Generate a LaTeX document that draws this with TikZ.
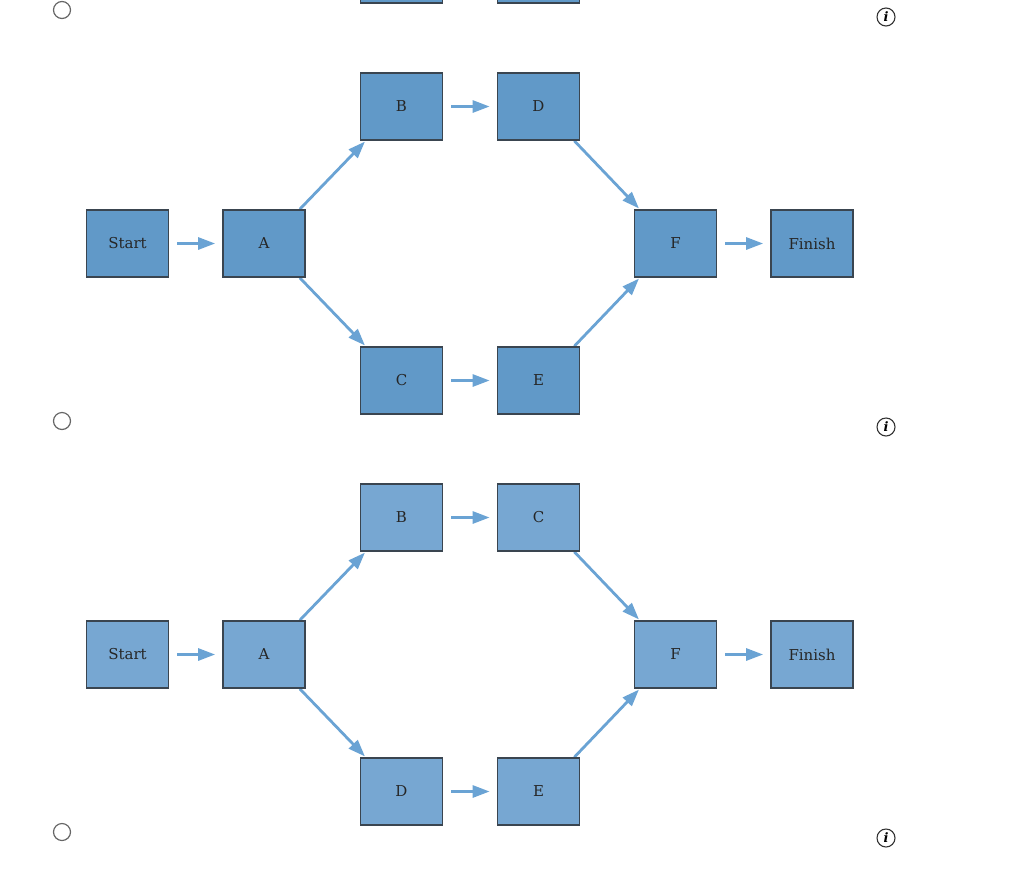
\documentclass[tikz,border=0pt]{standalone}
\usepackage{fontspec}
\setmainfont{DejaVu Serif}
\usetikzlibrary{arrows.meta,calc,backgrounds}
\definecolor{boxA}{HTML}{6199C8}
\definecolor{boxB}{HTML}{77A7D2}
\definecolor{arr}{HTML}{6AA3D4}
\definecolor{edge}{HTML}{3A4550}
\tikzset{
 box/.style={draw=edge,line width=1.7pt,minimum width=82pt,minimum height=67pt,inner sep=0pt,font=\fontsize{15}{17}\selectfont,text=black!85},
 con/.style={draw=arr,line width=2.8pt,-{Triangle[length=17pt,width=12pt]}},
 hcon/.style={con,shorten <=8pt,shorten >=7pt},
 dcon/.style={con,shorten >=1pt},
 radio/.style={circle,draw=black!60,line width=1.2pt,minimum size=17pt,inner sep=0pt},
 info/.style={circle,draw=black!80,line width=1.1pt,minimum size=18pt,inner sep=0pt,font=\fontsize{13}{14}\selectfont\bfseries\itshape}
}
\begin{document}
\begin{tikzpicture}[x=1pt,y=-1pt]
\useasboundingbox (0,0) rectangle (1024,884);
\begin{scope}
\clip (0,0) rectangle (1024,884);
\node[box,fill=boxA] (t1) at (401.5,-30.5) {};
\node[box,fill=boxA] (t2) at (538.5,-30.5) {};
\end{scope}
\node[radio] (r1) at (62,10) {};
\node[radio] (r2) at (62,421) {};
\node[radio] (r3) at (62,832) {};
\node[info] (i1) at (886,17) {i};
\node[info] (i2) at (886,427) {i};
\node[info] (i3) at (886,838) {i};
% diagram 1
\node[box,fill=boxA] (s1) at (127.5,243.5) {Start};
\node[box,fill=boxA] (a1) at (264,243.5) {A};
\node[box,fill=boxA] (b1) at (401.5,106.5) {B};
\node[box,fill=boxA] (d1) at (538.5,106.5) {D};
\node[box,fill=boxA] (c1) at (401.5,380.5) {C};
\node[box,fill=boxA] (e1) at (538.5,380.5) {E};
\node[box,fill=boxA] (f1) at (675.5,243.5) {F};
\node[box,fill=boxA] (n1) at (812,243.5) {Finish};
% diagram 2
\node[box,fill=boxB] (s2) at (127.5,654.5) {Start};
\node[box,fill=boxB] (a2) at (264,654.5) {A};
\node[box,fill=boxB] (b2) at (401.5,517.5) {B};
\node[box,fill=boxB] (c2) at (538.5,517.5) {C};
\node[box,fill=boxB] (d2) at (401.5,791.5) {D};
\node[box,fill=boxB] (e2) at (538.5,791.5) {E};
\node[box,fill=boxB] (f2) at (675.5,654.5) {F};
\node[box,fill=boxB] (n2) at (812,654.5) {Finish};
\begin{scope}[on background layer]
\draw[hcon] (s1) -- (a1);
\draw[hcon] (b1) -- (d1);
\draw[hcon] (c1) -- (e1);
\draw[hcon] (f1) -- (n1);
\draw[dcon] ($(a1.north east)+(-6,0)$) -- ($(b1.south west)+(6,0)$);
\draw[dcon] ($(a1.south east)+(-6,0)$) -- ($(c1.north west)+(6,0)$);
\draw[dcon] ($(d1.south east)+(-6,0)$) -- ($(f1.north west)+(6,0)$);
\draw[dcon] ($(e1.north east)+(-6,0)$) -- ($(f1.south west)+(6,0)$);
\draw[hcon] (s2) -- (a2);
\draw[hcon] (b2) -- (c2);
\draw[hcon] (d2) -- (e2);
\draw[hcon] (f2) -- (n2);
\draw[dcon] ($(a2.north east)+(-6,0)$) -- ($(b2.south west)+(6,0)$);
\draw[dcon] ($(a2.south east)+(-6,0)$) -- ($(d2.north west)+(6,0)$);
\draw[dcon] ($(c2.south east)+(-6,0)$) -- ($(f2.north west)+(6,0)$);
\draw[dcon] ($(e2.north east)+(-6,0)$) -- ($(f2.south west)+(6,0)$);
\end{scope}
\end{tikzpicture}
\end{document}
